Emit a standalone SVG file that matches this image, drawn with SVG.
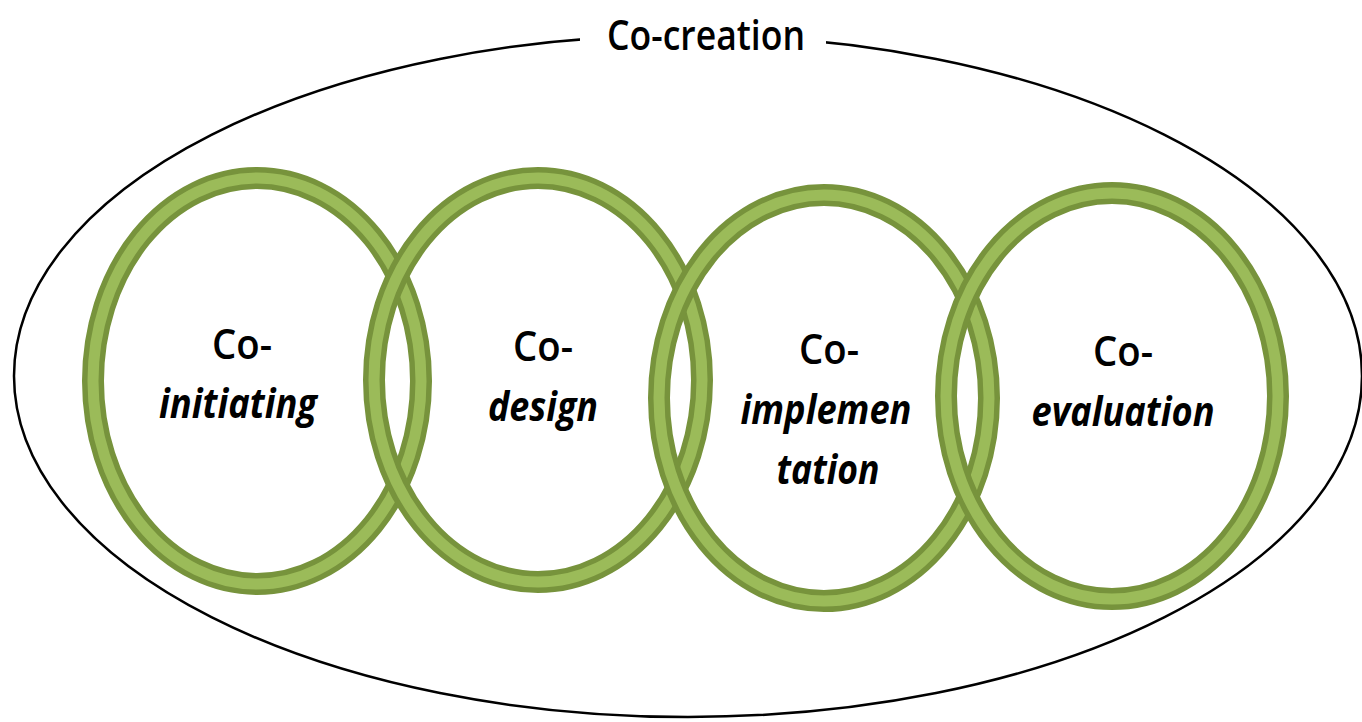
<svg xmlns="http://www.w3.org/2000/svg" width="1362" height="722" viewBox="0 0 1362 722">
<style>
.outer{fill:none;stroke:#000;stroke-width:2.5}
.rd{fill:none;stroke:#77933C;stroke-width:22}
.rl{fill:none;stroke:#9BBB59;stroke-width:11}
.t{font-family:"Open Sans","Liberation Sans",sans-serif;font-size:41px;font-weight:600;fill:#000;text-anchor:middle}
.i{font-style:italic;font-weight:700}
</style>
<rect width="1362" height="722" fill="#fff"/>
<g id="cocreation">
<ellipse class="outer" cx="688" cy="376" rx="674" ry="341"/>
<rect x="580" y="10" width="246" height="45" fill="#fff"/>
<text class="t" x="706" y="50" font-size="42" textLength="198" lengthAdjust="spacingAndGlyphs">Co-creation</text>
</g>
<g id="ring1">
<ellipse class="rd" cx="257" cy="381" rx="164" ry="203"/>
<ellipse class="rl" cx="257" cy="381" rx="164" ry="203"/>
<text class="t" x="242" y="359" textLength="60" lengthAdjust="spacingAndGlyphs">Co-</text>
<text class="t i" x="238" y="418" textLength="158" lengthAdjust="spacingAndGlyphs">initiating</text>
</g>
<g id="ring2">
<ellipse class="rd" cx="538" cy="380" rx="164" ry="202"/>
<ellipse class="rl" cx="538" cy="380" rx="164" ry="202"/>
<text class="t" x="543" y="361" textLength="60" lengthAdjust="spacingAndGlyphs">Co-</text>
<text class="t i" x="543" y="421" textLength="110" lengthAdjust="spacingAndGlyphs">design</text>
</g>
<g id="ring3">
<ellipse class="rd" cx="824" cy="398" rx="165" ry="203"/>
<ellipse class="rl" cx="824" cy="398" rx="165" ry="203"/>
<text class="t" x="829" y="364" textLength="60" lengthAdjust="spacingAndGlyphs">Co-</text>
<text class="t i" x="826" y="424" textLength="171" lengthAdjust="spacingAndGlyphs">implemen</text>
<text class="t i" x="828" y="484" textLength="103" lengthAdjust="spacingAndGlyphs">tation</text>
</g>
<g id="ring4">
<ellipse class="rd" cx="1112" cy="396" rx="166" ry="203"/>
<ellipse class="rl" cx="1112" cy="396" rx="166" ry="203"/>
<text class="t" x="1123" y="366" textLength="60" lengthAdjust="spacingAndGlyphs">Co-</text>
<text class="t i" x="1123" y="426" textLength="183" lengthAdjust="spacingAndGlyphs">evaluation</text>
</g>
<g id="connectors"></g>
</svg>
